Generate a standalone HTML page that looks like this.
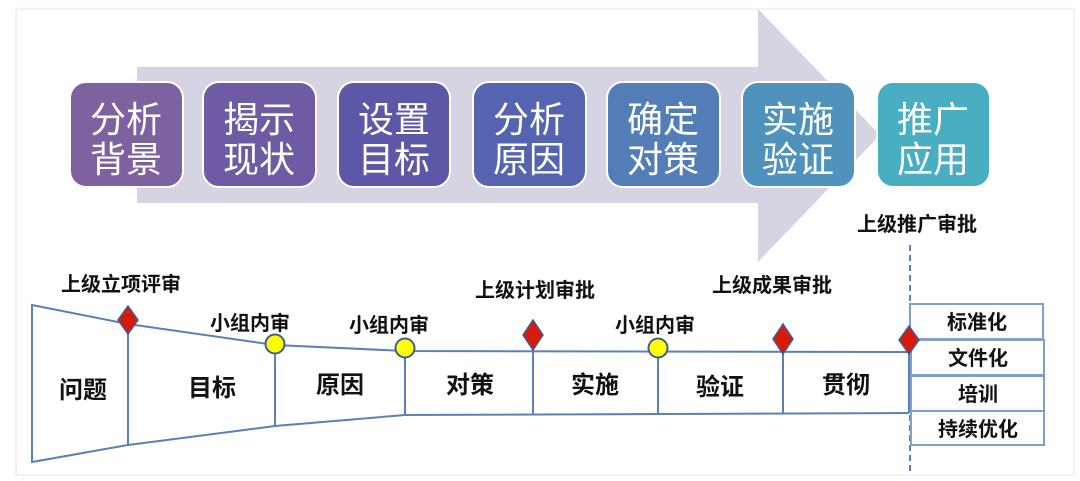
<!DOCTYPE html>
<html><head><meta charset="utf-8"><style>
html,body{margin:0;padding:0;background:#fff;width:1080px;height:481px;overflow:hidden}
svg text{font-family:"Liberation Sans","Noto Sans CJK SC",sans-serif}
</style></head><body>
<svg width="1080" height="481" viewBox="0 0 1080 481" xmlns="http://www.w3.org/2000/svg">
<rect x="16" y="9" width="1058" height="466" fill="none" stroke="#f4dede" stroke-width="1"/>
<polygon points="137,67 758,67 758,9 880,135 758,262 758,203 137,203" fill="#d6d3e2"/>
<g stroke="#fff" stroke-width="2">
<rect x="70" y="82" width="113" height="105" rx="16" fill="#7e62a0"/>
<rect x="203" y="82" width="113" height="105" rx="16" fill="#6e5ba3"/>
<rect x="338" y="82" width="112" height="105" rx="16" fill="#5d57a8"/>
<rect x="473" y="82" width="113" height="105" rx="16" fill="#5464b0"/>
<rect x="607" y="82" width="113" height="105" rx="16" fill="#527db6"/>
<rect x="742" y="82" width="113" height="105" rx="16" fill="#4f92bc"/>
<rect x="877" y="82" width="113" height="105" rx="16" fill="#4aaec3"/>
</g>
<g fill="#fff" font-size="36" text-anchor="middle" style="font-family:'Noto Serif CJK SC','Noto Sans CJK SC',serif">
<text x="126" y="132">分析</text><text x="126" y="172">背景</text>
<text x="259" y="132">揭示</text><text x="259" y="172">现状</text>
<text x="394" y="132">设置</text><text x="394" y="172">目标</text>
<text x="529" y="132">分析</text><text x="529" y="172">原因</text>
<text x="663" y="132">确定</text><text x="663" y="172">对策</text>
<text x="798" y="132">实施</text><text x="798" y="172">验证</text>
<text x="933" y="132">推广</text><text x="933" y="172">应用</text>
</g>
<g fill="none" stroke="#5b80b4" stroke-width="2">
<polygon points="32,305 128,324 128,445 32,462"/>
<polyline points="128,324 275,345 405,351 909,352"/>
<polyline points="128,445 275,426 405,415 909,413"/>
<line x1="275" y1="345" x2="275" y2="426"/>
<line x1="405" y1="351" x2="405" y2="415"/>
<line x1="533" y1="352" x2="533" y2="414"/>
<line x1="658" y1="352" x2="658" y2="413"/>
<line x1="783" y1="352" x2="783" y2="413"/>
<line x1="909" y1="352" x2="909" y2="413"/>
</g>
<line x1="910" y1="245" x2="910" y2="474" stroke="#5b80b4" stroke-width="2" stroke-dasharray="6,4"/>
<g fill="#fff" stroke="#7f9fcc" stroke-width="2">
<rect x="910" y="304" width="133" height="35"/>
<rect x="911" y="340" width="133" height="35"/>
<rect x="911" y="376" width="133" height="35"/>
<rect x="911" y="411" width="133" height="34"/>
</g>
<g fill="#d81a0a" stroke="#3e5f90" stroke-width="1.5">
<polygon points="128,306 138,320 128,334 118,320"/>
<polygon points="533,320 543,335 533,350 523,335"/>
<polygon points="783,324 793,339 783,354 773,339"/>
<polygon points="909,326 919,340 909,354 899,340"/>
</g>
<g fill="#ffff00" stroke="#3e5f90" stroke-width="2">
<circle cx="275" cy="344" r="9.5"/>
<circle cx="405" cy="348" r="9.5"/>
<circle cx="658" cy="348" r="9.5"/>
</g>
<g fill="#111" font-weight="bold" font-size="20" text-anchor="middle">
<text x="121" y="291">上级立项评审</text>
<text x="250" y="330">小组内审</text>
<text x="389" y="332">小组内审</text>
<text x="535" y="297">上级计划审批</text>
<text x="655" y="332">小组内审</text>
<text x="772" y="292">上级成果审批</text>
<text x="917" y="231">上级推广审批</text>
</g>
<g fill="#111" font-weight="bold" font-size="24" text-anchor="middle">
<text x="83" y="398">问题</text>
<text x="212" y="396">目标</text>
<text x="340" y="393">原因</text>
<text x="470" y="393">对策</text>
<text x="595" y="393">实施</text>
<text x="720" y="395">验证</text>
<text x="846" y="393">贯彻</text>
</g>
<g fill="#111" font-weight="bold" font-size="20" text-anchor="middle">
<text x="977" y="329">标准化</text>
<text x="978" y="365">文件化</text>
<text x="978" y="401">培训</text>
<text x="978" y="436">持续优化</text>
</g>
</svg>
</body></html>
